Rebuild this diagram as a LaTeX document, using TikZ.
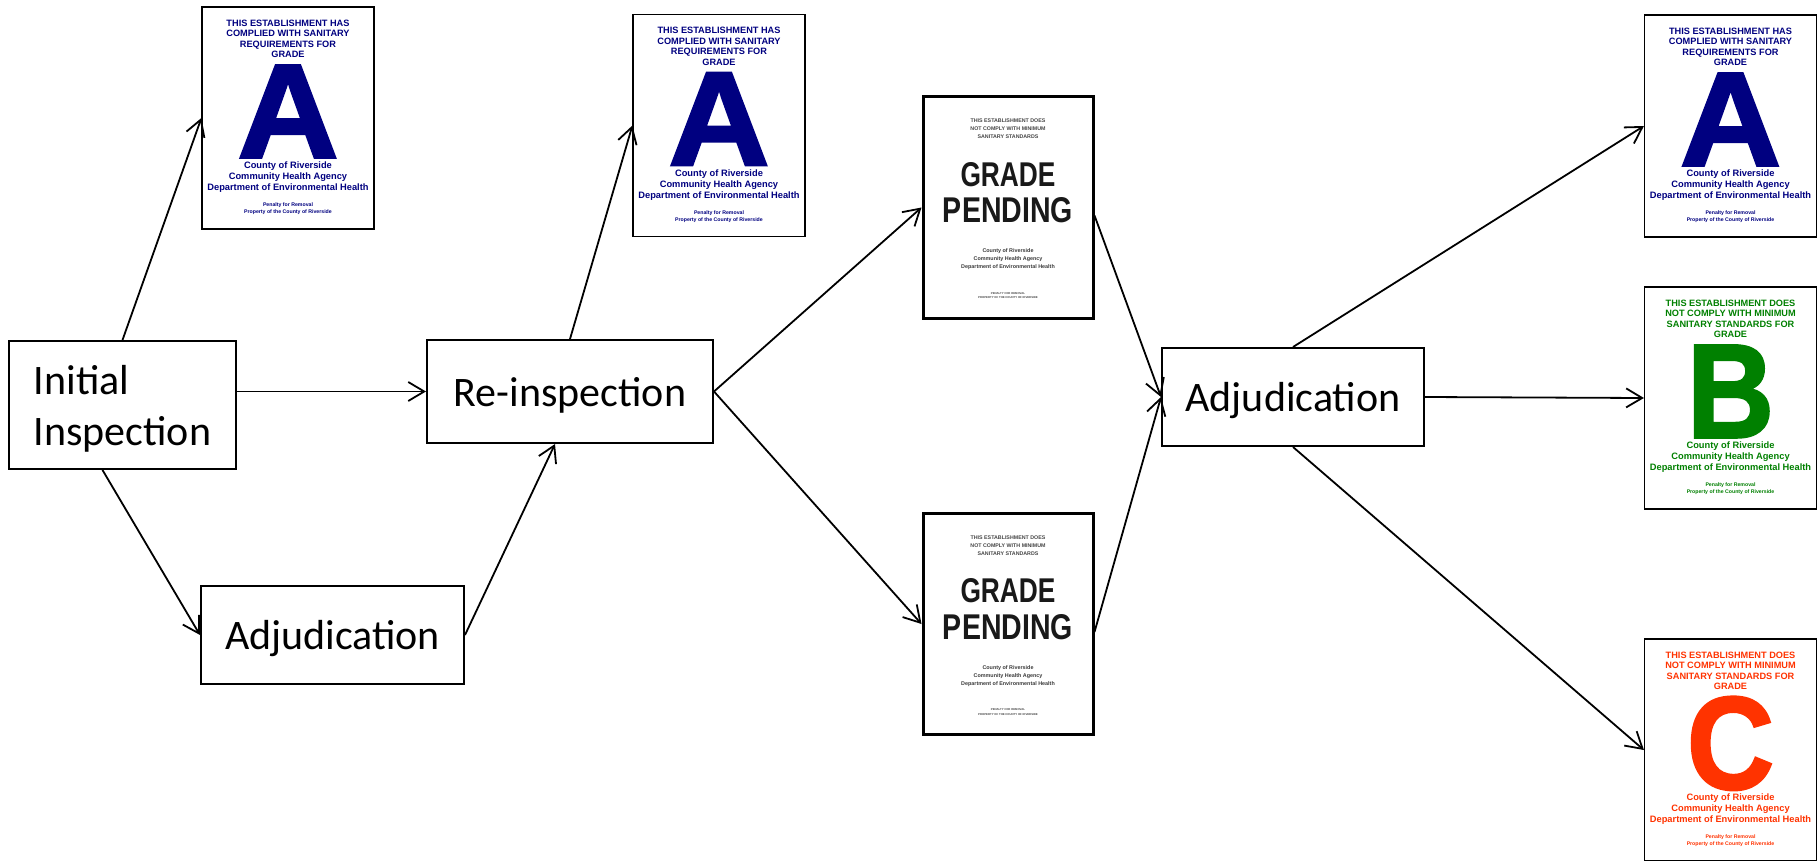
\documentclass[tikz,border=0pt]{standalone}
\usepackage{fontspec}
\usetikzlibrary{arrows.meta}
\newfontfamily\boxfont{Carlito}
\newfontfamily\cardfont{Liberation Sans}
\newfontfamily\letterfont{Liberation Sans Bold}[FakeBold=2]
\definecolor{gradeA}{RGB}{0,0,128}
\definecolor{gradeB}{RGB}{0,128,0}
\definecolor{gradeC}{RGB}{255,51,0}
\definecolor{pendink}{RGB}{25,25,25}

% grade card: name, centre, colour, header, letter, letter width
\newcommand{\gradecard}[6]{%
  \node[card] (#1) at (#2) {};
  \node[cardtext, text=#3, font=\cardfont\bfseries\fontsize{9.2}{10.5}\selectfont]
    (#1-head) at ([yshift=-32.5]#1.north) {#4};
  \node[cardtext, text=#3] (#1-grade) at ([yshift=-105]#1.north)
    {\resizebox{#6pt}{92pt}{\letterfont #5}};
  \node[cardtext, text=#3, font=\cardfont\bfseries\fontsize{9.3}{11}\selectfont]
    (#1-county) at ([yshift=-171]#1.north)
    {County of Riverside\\Community Health Agency\\Department of Environmental Health};
  \node[cardtext, text=#3, font=\cardfont\bfseries\fontsize{5.2}{6.6}\selectfont]
    (#1-note) at ([yshift=-202.5]#1.north)
    {Penalty for Removal\\Property of the County of Riverside};
}
% pending card: name, centre
\newcommand{\pendcard}[2]{%
  \node[card, line width=3pt, minimum width=170pt, minimum height=221pt] (#1) at (#2) {};
  \node[cardtext, text=pendink!80, font=\cardfont\bfseries\fontsize{5.3}{8}\selectfont]
    (#1-head) at ([yshift=-33.6]#1.north)
    {THIS ESTABLISHMENT DOES\\NOT COMPLY WITH MINIMUM\\SANITARY STANDARDS};
  \node[cardtext, text=pendink] (#1-grade) at ([yshift=-78.7]#1.north)
    {\resizebox{95pt}{24pt}{\cardfont\bfseries GRADE}};
  \node[cardtext, text=pendink] (#1-pending) at ([yshift=-114.8]#1.north)
    {\resizebox{130pt}{25pt}{\cardfont\bfseries PENDING}};
  \node[cardtext, text=pendink!85, font=\cardfont\bfseries\fontsize{5.4}{8}\selectfont]
    (#1-county) at ([yshift=-164]#1.north)
    {County of Riverside\\Community Health Agency\\Department of Environmental Health};
  \node[cardtext, text=pendink!80, font=\cardfont\bfseries\fontsize{2.8}{4.3}\selectfont]
    (#1-note) at ([yshift=-200]#1.north)
    {PENALTY FOR REMOVAL\\PROPERTY OF THE COUNTY OF RIVERSIDE};
}

\begin{document}
\begin{tikzpicture}[x=1pt, y=-1pt,
    box/.style={draw, line width=2pt, inner sep=0pt, text depth=0pt,
      font=\boxfont\fontsize{42}{51}\selectfont},
    card/.style={draw, line width=1.2pt, fill=white, inner sep=0pt,
      minimum width=172pt, minimum height=222pt},
    cardtext/.style={inner sep=0pt, align=center},
    flow/.style={line width=1.8pt, -{Straight Barb[length=16pt, width=19pt]}}]
    \useasboundingbox (0,0) rectangle (1819,861);
    \node[box, align=left, minimum width=227pt, minimum height=128pt] (init) at (122.5,405) {Initial\\Inspection};
    \node[box, minimum width=263pt, minimum height=98pt] (adj1) at (332.5,635) {Adjudication};
    \node[box, minimum width=286pt, minimum height=103pt] (reinsp) at (570,391.5) {Re-inspection};
    \node[box, minimum width=262pt, minimum height=98pt] (adj2) at (1293,397) {Adjudication};
    \gradecard{cardA1}{288,118}{gradeA}{THIS ESTABLISHMENT HAS\\COMPLIED WITH SANITARY\\REQUIREMENTS FOR\\GRADE}{A}{101}
    \gradecard{cardA2}{719,125.5}{gradeA}{THIS ESTABLISHMENT HAS\\COMPLIED WITH SANITARY\\REQUIREMENTS FOR\\GRADE}{A}{101}
    \pendcard{pend1}{1008,207.5}
    \pendcard{pend2}{1008,624}
    \gradecard{cardA3}{1730.5,126}{gradeA}{THIS ESTABLISHMENT HAS\\COMPLIED WITH SANITARY\\REQUIREMENTS FOR\\GRADE}{A}{101}
    \gradecard{cardB}{1730.5,398}{gradeB}{THIS ESTABLISHMENT DOES\\NOT COMPLY WITH MINIMUM\\SANITARY STANDARDS FOR\\GRADE}{B}{87}
    \gradecard{cardC}{1730.5,750}{gradeC}{THIS ESTABLISHMENT DOES\\NOT COMPLY WITH MINIMUM\\SANITARY STANDARDS FOR\\GRADE}{C}{87}
    \draw[flow] (init.north) -- (cardA1.west);
    \draw[flow] (reinsp.west -| init.east) -- (reinsp.west);
    \draw[flow] ([xshift=-20]init.south) -- (adj1.west);
    \draw[flow] (adj1.east) -- ([xshift=-15]reinsp.south);
    \draw[flow] (reinsp.north) -- (cardA2.west);
    \draw[flow] (reinsp.east) -- (pend1.west);
    \draw[flow] (reinsp.east) -- (pend2.west);
    \draw[flow] ([yshift=-8]pend1.east) -- (adj2.west);
    \draw[flow] ([yshift=-8]pend2.east) -- (adj2.west);
    \draw[flow] (adj2.north) -- (cardA3.west);
    \draw[flow] (adj2.east) -- (cardB.west);
    \draw[flow] (adj2.south) -- (cardC.west);
\end{tikzpicture}
\end{document}
